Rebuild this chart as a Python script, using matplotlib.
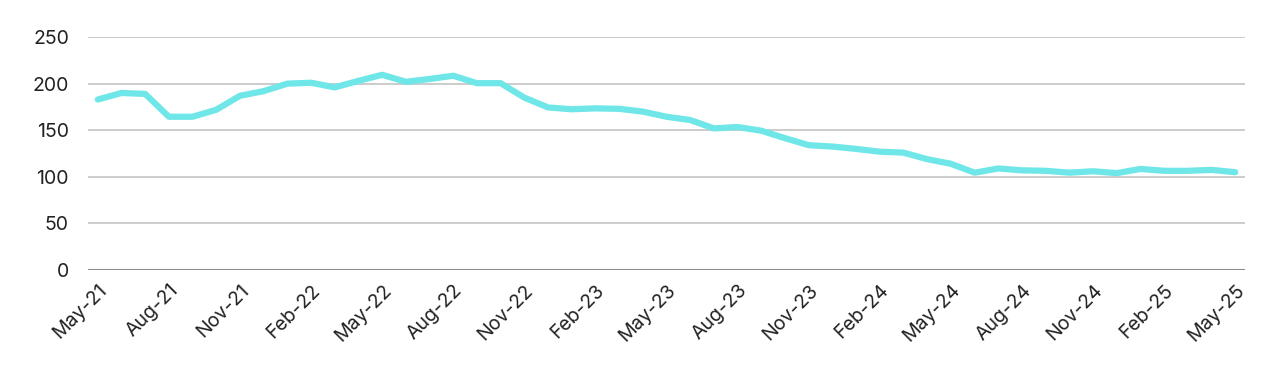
import matplotlib
matplotlib.use("Agg")
import matplotlib.pyplot as plt

plt.rcParams['font.family'] = ['Inter', 'DejaVu Sans']

# monthly series, May-21 .. May-25
months = ["May-21", "Jun-21", "Jul-21", "Aug-21", "Sep-21", "Oct-21", "Nov-21", "Dec-21",
          "Jan-22", "Feb-22", "Mar-22", "Apr-22", "May-22", "Jun-22", "Jul-22", "Aug-22",
          "Sep-22", "Oct-22", "Nov-22", "Dec-22", "Jan-23", "Feb-23", "Mar-23", "Apr-23",
          "May-23", "Jun-23", "Jul-23", "Aug-23", "Sep-23", "Oct-23", "Nov-23", "Dec-23",
          "Jan-24", "Feb-24", "Mar-24", "Apr-24", "May-24", "Jun-24", "Jul-24", "Aug-24",
          "Sep-24", "Oct-24", "Nov-24", "Dec-24", "Jan-25", "Feb-25", "Mar-25", "Apr-25",
          "May-25"]
values = [183, 190, 189, 164.5, 164.5, 172, 187, 192,
          200, 201, 196, 203, 209.5, 202, 205, 208.5,
          200.5, 200.5, 185, 174.5, 172.5, 173.5, 173, 170,
          164.5, 161, 152, 153.5, 149.5, 141.5, 134, 132.5,
          130, 127, 126, 119, 114, 104.5, 109, 107,
          106.5, 104.5, 106, 104, 108.5, 106.5, 106.5, 107.5,
          105]
yticks = [0, 50, 100, 150, 200, 250]

fig = plt.figure(figsize=(12.8, 3.82), dpi=100)
ax = fig.add_axes([0.069, 0.293, 0.904, 0.61])

x = list(range(len(values)))
ax.plot(x, values, color='#6fe6e8', linewidth=4.5, solid_capstyle='round', zorder=3)

ax.set_ylim(0, 250)
ax.set_yticks(yticks)
ax.set_xlim(-0.4, len(values) - 1 + 0.43)
ax.grid(axis='y', color='#c4c4c4', linewidth=1.2)
ax.axhline(0, color='#8c8c8c', linewidth=1.5, zorder=2)

ax.set_xticks(x[::3])
ax.set_xticklabels(months[::3], rotation=45, ha='right', rotation_mode='anchor')

for s in ax.spines.values():
    s.set_visible(False)
ax.tick_params(axis='both', length=0, labelsize=14, colors='#222222')
ax.tick_params(axis='y', pad=14)
ax.tick_params(axis='x', pad=8)

fig.savefig('out.png', dpi=100)
